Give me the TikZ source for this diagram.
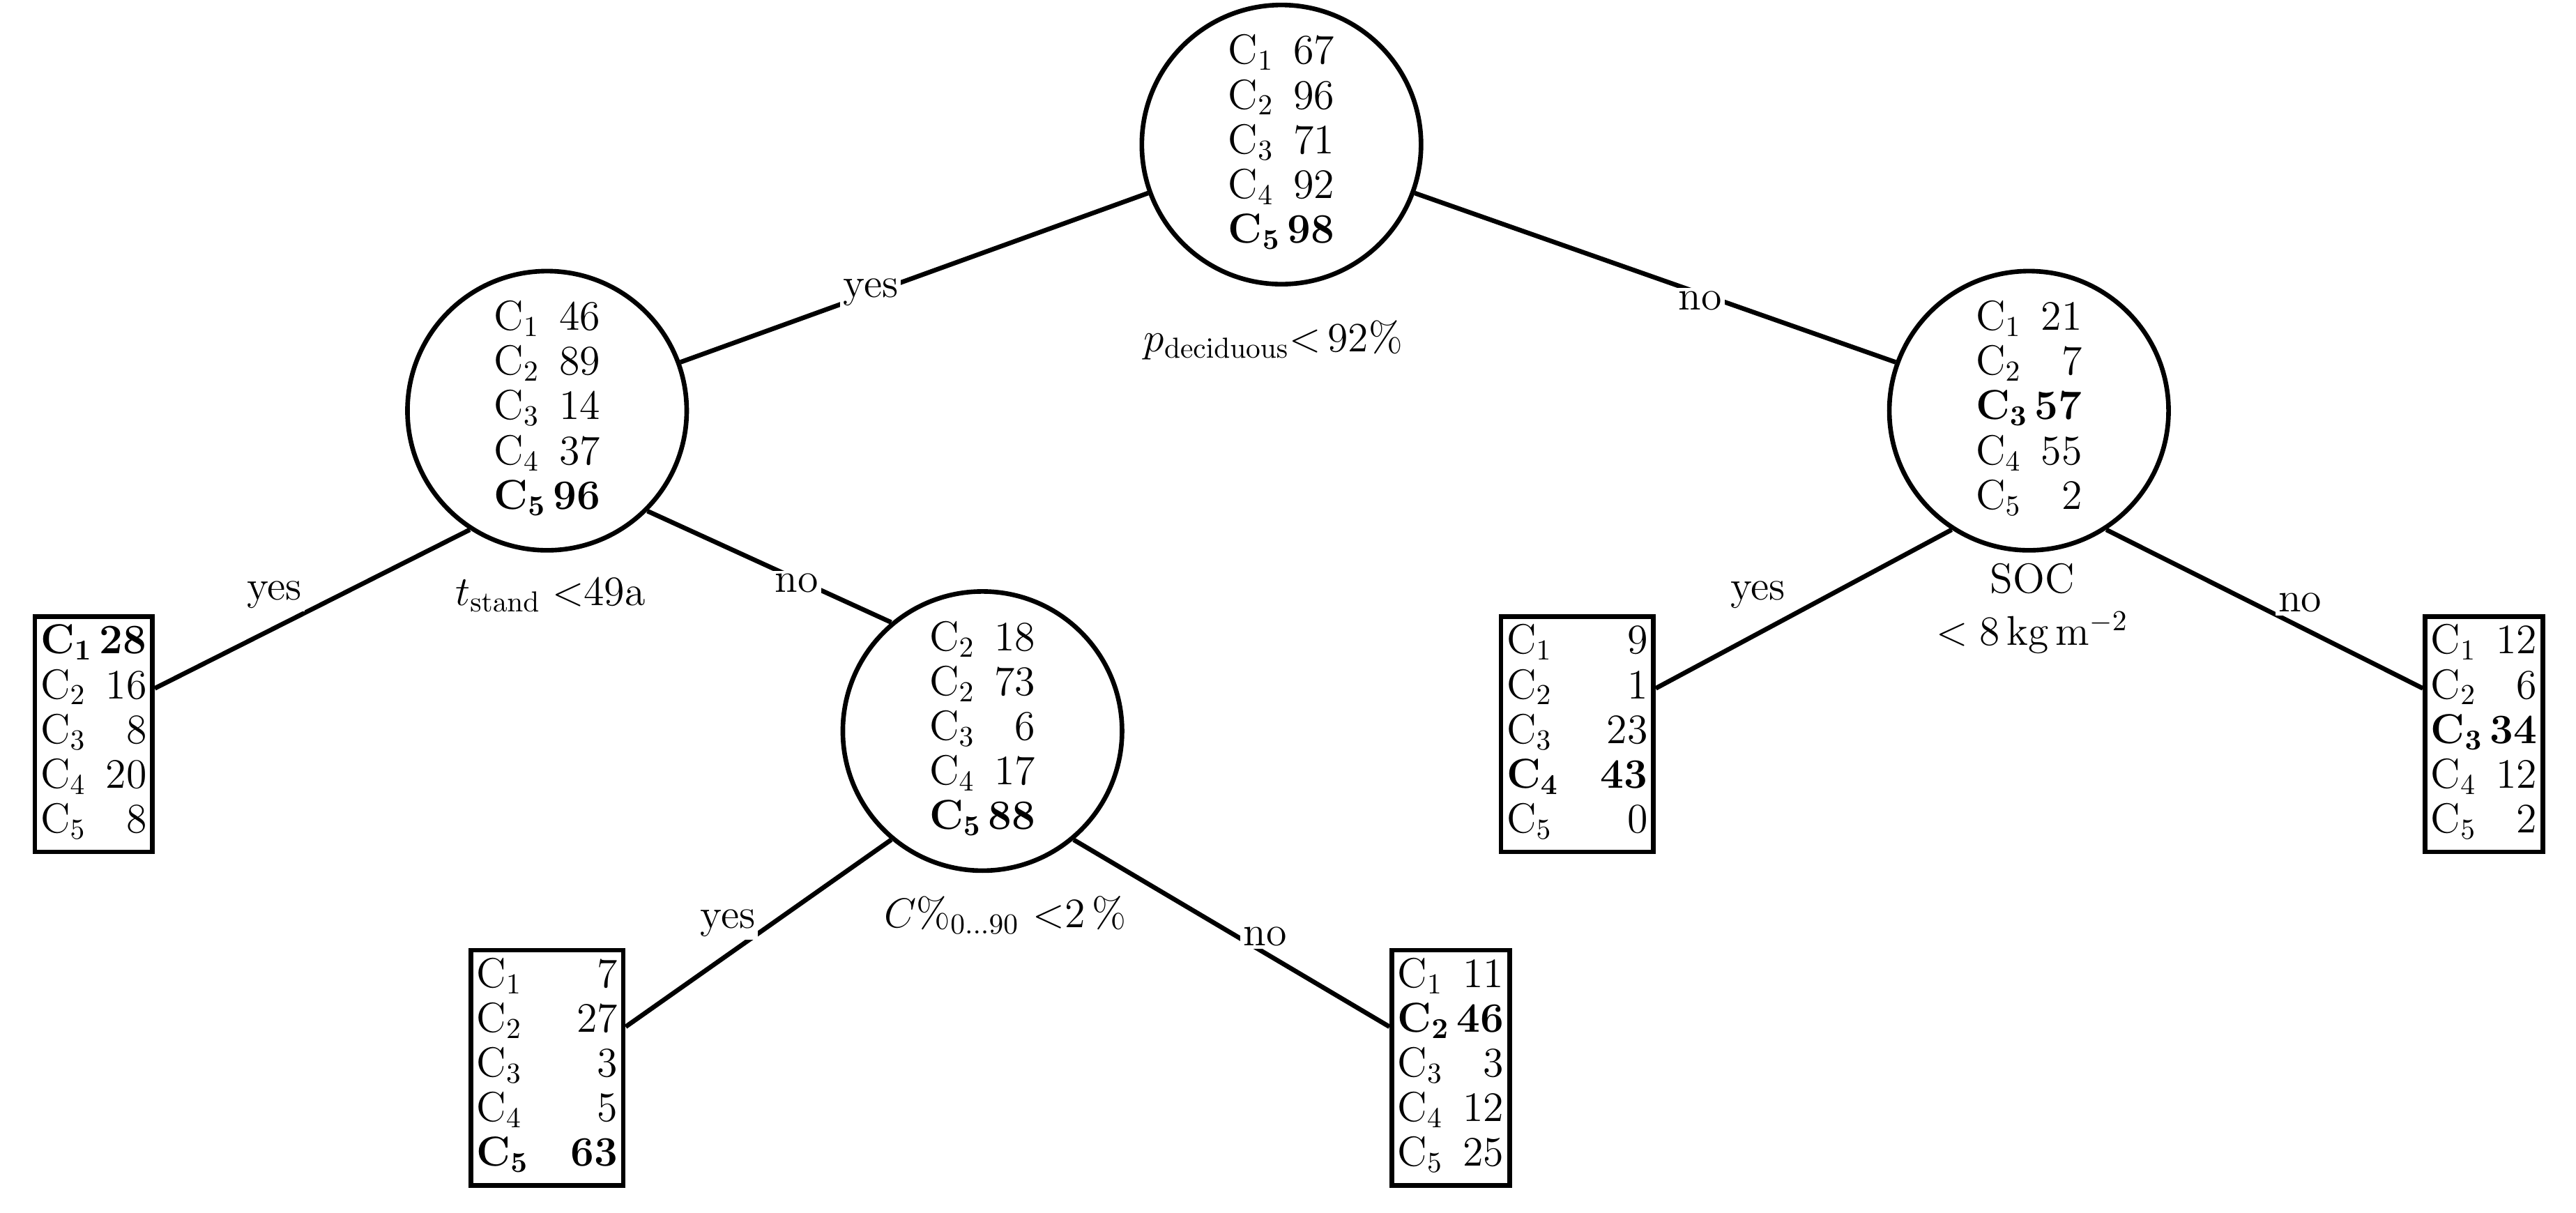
\documentclass[tikz,border=0pt]{standalone}
\usetikzlibrary{calc}
\newcommand{\Cn}[2]{C$_{#1}$ & #2\\}
\newcommand{\Cbn}[2]{\textbf{C}$_{\mathbf{#1}}$ & \textbf{#2}\\}
\begin{document}
\begin{tikzpicture}[x=0.02cm,y=-0.02cm,
  every node/.style={font=\fontsize{14.5}{15.5}\selectfont},
  split/.style={circle,draw,line width=1.6pt,minimum size=3.4cm,inner sep=0pt,align=center},
  leaf/.style={rectangle,draw,line width=1.6pt,inner sep=2pt},
  edge/.style={line width=1.6pt},
  lab/.style={inner sep=1pt}]
\useasboundingbox (0,0) rectangle (1568,738);
\node[split] (r) at (780,88) {\begin{tabular}{@{}l@{\,}r@{}}\Cn{1}{67}\Cn{2}{96}\Cn{3}{71}\Cn{4}{92}\Cbn{5}{98}\end{tabular}};
\node[lab] (rl) at (775,207) {$p_{\mathrm{deciduous}}{<}\,92\%$};
\node[split] (a) at (333,250) {\begin{tabular}{@{}l@{\,}r@{}}\Cn{1}{46}\Cn{2}{89}\Cn{3}{14}\Cn{4}{37}\Cbn{5}{96}\end{tabular}};
\node[lab] (al) at (335,362) {$t_{\mathrm{stand}}<$49a};
\node[split] (b) at (1235,250) {\begin{tabular}{@{}l@{\,}r@{}}\Cn{1}{21}\Cn{2}{7}\Cbn{3}{57}\Cn{4}{55}\Cn{5}{2}\end{tabular}};
\node[lab] (bl) at (1237,352) {SOC};
\node[lab] (bl2) at (1237,385) {$<8\,\mathrm{kg\,m^{-2}}$};
\node[split] (m) at (598,445) {\begin{tabular}{@{}l@{\,}r@{}}\Cn{2}{18}\Cn{2}{73}\Cn{3}{6}\Cn{4}{17}\Cbn{5}{88}\end{tabular}};
\node[lab] (ml) at (612,557) {$C\%_{0\ldots90}$ <2\,\%};
\node[leaf] (l1) at (57,447) {\begin{tabular}{@{}l@{\,}r@{}}\Cbn{1}{28}\Cn{2}{16}\Cn{3}{8}\Cn{4}{20}\Cn{5}{8}\end{tabular}};
\node[leaf] (l2) at (960,447) {\begin{tabular}{@{}l@{\quad}r@{}}\Cn{1}{9}\Cn{2}{1}\Cn{3}{23}\Cbn{4}{43}\Cn{5}{0}\end{tabular}};
\node[leaf] (l3) at (1512,447) {\begin{tabular}{@{}l@{\,}r@{}}\Cn{1}{12}\Cn{2}{6}\Cbn{3}{34}\Cn{4}{12}\Cn{5}{2}\end{tabular}};
\node[leaf] (l4) at (333,650) {\begin{tabular}{@{}l@{\quad}r@{}}\Cn{1}{7}\Cn{2}{27}\Cn{3}{3}\Cn{4}{5}\Cbn{5}{63}\end{tabular}};
\node[leaf] (l5) at (883,650) {\begin{tabular}{@{}l@{\,}r@{}}\Cn{1}{11}\Cbn{2}{46}\Cn{3}{3}\Cn{4}{12}\Cn{5}{25}\end{tabular}};
\draw[edge] (r.200) -- (a.20);
\draw[edge] (r.-20) -- (b.160);
\draw[edge] (a.-123) -- ($(l1.north east)+(0,45)$);
\draw[edge] (a.-45) -- (m.130);
\draw[edge] (b.-123) -- ($(l2.north east)+(0,45)$);
\draw[edge] (b.-57) -- ($(l3.north west)+(0,45)$);
\draw[edge] (m.-130) -- ($(l4.north east)+(0,48)$);
\draw[edge] (m.-50) -- ($(l5.north west)+(0,48)$);
\node[fill=white,lab] (y1) at (530,178) {yes};
\node[fill=white,lab] (n1) at (1035,183) {no};
\node[fill=white,lab] (y2) at (167,362) {yes};
\node[fill=white,lab] (n2) at (485,355) {no};
\node[fill=white,lab] (y3) at (1070,362) {yes};
\node[fill=white,lab] (n3) at (1400,367) {no};
\node[fill=white,lab] (y4) at (443,562) {yes};
\node[fill=white,lab] (n4) at (770,570) {no};
\end{tikzpicture}
\end{document}
